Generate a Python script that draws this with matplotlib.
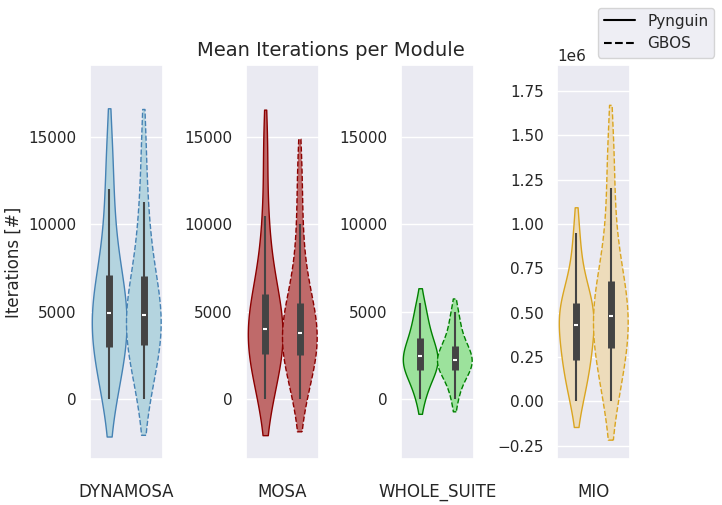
import numpy as np, pandas as pd, matplotlib
matplotlib.use("Agg")
import matplotlib.pyplot as plt, seaborn as sns
from matplotlib.lines import Line2D
from matplotlib.collections import PolyCollection

sns.set_theme(style="darkgrid")
approaches = ["DYNAMOSA", "MOSA", "WHOLE_SUITE", "MIO"]
tools = ["Pynguin", "GBOS"]
data = {
 ("DYNAMOSA","Pynguin"): [0,800,1800,2600,2900,3300,3900,4300,4700,5100,5600,6200,6600,7300,8500,10000,12000,14500],
 ("DYNAMOSA","GBOS"): [0,900,2000,2700,3000,3400,3900,4300,4600,5000,5500,6100,6500,7200,8300,9800,11300,14500],
 ("MOSA","Pynguin"): [0,700,1600,2300,2600,3000,3500,3800,4000,4400,5000,5600,6000,6800,8200,10500,14500],
 ("MOSA","GBOS"): [0,800,1700,2300,2500,2900,3300,3600,3800,4200,4700,5200,5500,6400,7800,10000,13000],
 ("WHOLE_SUITE","Pynguin"): [0,700,1300,1600,1700,1900,2200,2400,2500,2700,3000,3400,3700,4200,4800,5500],
 ("WHOLE_SUITE","GBOS"): [0,800,1300,1600,1700,1900,2100,2200,2300,2500,2700,3000,3200,3700,4300,5000],
 ("MIO","Pynguin"): [0,0.08,0.16,0.22,0.24,0.3,0.36,0.41,0.45,0.48,0.52,0.55,0.56,0.64,0.75,0.95],
 ("MIO","GBOS"): [0,0.08,0.18,0.26,0.3,0.36,0.41,0.45,0.48,0.53,0.58,0.64,0.68,0.8,0.95,1.2,1.45],
}
fills = ["lightblue", "indianred", "lightgreen", "wheat"]
edges = ["steelblue", "darkred", "green", "goldenrod"]
lefts = [90, 246, 401, 557]
ylims = [(-3430, 19120)] * 3 + [(-0.324e6, 1.895e6)]

fig = plt.figure(figsize=(7.22, 5.05), dpi=100)
for i, a in enumerate(approaches):
    ax = fig.add_axes([lefts[i]/722, 1-459/505, 73/722, 394/505])
    scale = 1e6 if a == "MIO" else 1
    rows = [(a, t, v*scale) for t in tools for v in data[(a, t)]]
    df = pd.DataFrame(rows, columns=["approach", "tool", "val"])
    sns.violinplot(data=df, x="approach", y="val", hue="tool", hue_order=tools,
                   palette=[fills[i]]*2, inner=None, ax=ax, legend=False,
                   linewidth=1, width=0.95, bw_adjust=1.0, cut=1.0)
    polys = [c for c in ax.collections if isinstance(c, PolyCollection)]
    for k, p in enumerate(polys):
        p.set_edgecolor(edges[i]); p.set_linestyle("-" if k == 0 else "--")
    for k, t in enumerate(tools):
        v = np.array(data[(a, t)]) * scale
        q1, med, q3 = np.percentile(v, [25, 50, 75])
        iqr = q3 - q1
        lo = v[v >= q1 - 1.5*iqr].min(); hi = v[v <= q3 + 1.5*iqr].max()
        x = -0.24 + 0.48*k
        ax.vlines(x, lo, hi, color="#444444", lw=1.5, zorder=3)
        ax.vlines(x, q1, q3, color="#444444", lw=5, zorder=3)
        ax.scatter([x], [med], color="white", s=10, marker="_", zorder=4, linewidths=1.5)
    ax.set_ylim(*ylims[i])
    ax.set_xlim(-0.5, 0.5)
    ax.set_xticks([-0.24, 0.24]); ax.set_xticklabels([])
    ax.set_xlabel(a, fontsize=12, labelpad=14)
    ax.set_ylabel("Iterations [#]" if i == 0 else "", fontsize=12)
    ax.tick_params(axis="x", length=0)
    if a != "MIO":
        ax.set_yticks([0, 5000, 10000, 15000])
fig.text(0.458, 0.89, "Mean Iterations per Module", ha="center", fontsize=14)
handles = [Line2D([], [], color="black", ls="-"), Line2D([], [], color="black", ls="--")]
fig.legend(handles, tools, loc="upper right", bbox_to_anchor=(1.0, 1.0))
fig.savefig("out.png", dpi=100)
